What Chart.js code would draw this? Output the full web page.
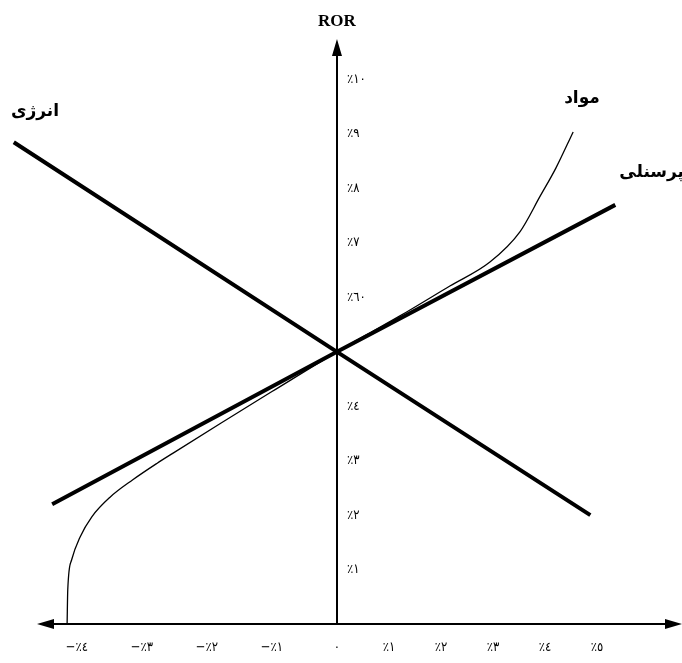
<!DOCTYPE html>
<html><head><meta charset="utf-8">
<script src="https://cdn.jsdelivr.net/npm/chart.js@4/dist/chart.umd.min.js"></script>
<style>html,body{margin:0;padding:0;background:#fff;} #wrap{width:682px;height:663px;}</style>
</head><body><div id="wrap"><canvas id="c" width="682" height="663"></canvas></div>
<script>
// ---- data ----
const xTickValues = [-4, -3, -2, -1, 0, 1, 2, 3, 4, 5];
const xTickLabels = ['−٪٤', '−٪٣', '−٪٢', '−٪١', '٠', '٪١', '٪٢', '٪٣', '٪٤', '٪٥'];
const yTickValues = [1, 2, 3, 4, 6, 7, 8, 9, 10];
const yTickLabels = ['٪١', '٪٢', '٪٣', '٪٤', '٪٦٠', '٪٧', '٪٨', '٪٩', '٪١٠'];
const axisTitle = 'ROR';
const seriesNames = ['انرژی', 'پرسنلی', 'مواد'];
const energyX = [-4.97, 0, 4.87];
const energyY = [8.85, 5, 2.0];
const personnelX = [-4.38, 0, 5.35];
const personnelY = [2.2, 5, 7.7];
const materialsX = [-4.15, -4.14, -4.08, -3.95, -3.77, -3.49, -3.14, -2.77, -2.52, -1.8, -1.0, 0, 0.6, 1.21, 2.17, 2.94, 3.52, 3.9, 4.21, 4.54];
const materialsY = [0, 0.63, 1.18, 1.6, 1.97, 2.33, 2.65, 2.95, 3.14, 3.68, 4.27, 5, 5.33, 5.66, 6.21, 6.65, 7.21, 7.85, 8.38, 9.04];

// ---- x scale with different unit length on negative and positive side ----
class SplitLinearScale extends Chart.LinearScale {
  static id = 'splitLinear';
  static defaults = {};
  _split() {
    const r = this.options.posRatio || 1;
    const W = this.right - this.left;
    const nu = W / (-this.min + r * this.max);
    return { nu: nu, pu: nu * r, z: this.left + nu * (-this.min) };
  }
  getPixelForValue(value) {
    if (value === null || value === undefined || isNaN(value)) return NaN;
    const s = this._split();
    return value < 0 ? s.z + value * s.nu : s.z + value * s.pu;
  }
  getValueForPixel(pixel) {
    const s = this._split();
    return pixel < s.z ? (pixel - s.z) / s.nu : (pixel - s.z) / s.pu;
  }
}
Chart.register(SplitLinearScale);

const toPts = (xs, ys) => xs.map((x, i) => ({ x: x, y: ys[i] }));
const arabicFont = '"DejaVu Sans", sans-serif';
const tickFont = '"DejaVu Sans Condensed", "DejaVu Sans", sans-serif';

const decor = {
  id: 'decor',
  afterDraw(chart) {
    const ctx = chart.ctx, a = chart.chartArea;
    const xs = chart.scales.x, ys = chart.scales.y;
    const x0 = xs.getPixelForValue(0), y0 = ys.getPixelForValue(0);
    ctx.save();
    ctx.fillStyle = '#000'; ctx.strokeStyle = '#000';
    // y tick labels to the right of the axis
    ctx.font = '13px ' + tickFont;
    ctx.textAlign = 'left'; ctx.textBaseline = 'middle';
    ys.ticks.forEach(t => { if (t.label) ctx.fillText(t.label, x0 + 10, ys.getPixelForValue(t.value)); });
    // arrows
    ctx.lineWidth = 2;
    ctx.beginPath(); ctx.moveTo(x0, a.top); ctx.lineTo(x0, a.top - 4); ctx.stroke();
    ctx.beginPath(); ctx.moveTo(x0, a.top - 8); ctx.lineTo(x0 - 5, a.top + 9); ctx.lineTo(x0 + 5, a.top + 9); ctx.closePath(); ctx.fill();
    ctx.beginPath(); ctx.moveTo(a.left - 8, y0); ctx.lineTo(a.left + 9, y0 - 5); ctx.lineTo(a.left + 9, y0 + 5); ctx.closePath(); ctx.fill();
    ctx.beginPath(); ctx.moveTo(a.right + 10, y0); ctx.lineTo(a.right - 7, y0 - 5); ctx.lineTo(a.right - 7, y0 + 5); ctx.closePath(); ctx.fill();
    // axis title
    ctx.font = 'bold 17px "Liberation Serif", serif';
    ctx.textAlign = 'center'; ctx.textBaseline = 'middle';
    ctx.fillText(axisTitle, x0, a.top - 25);
    // series names
    ctx.font = 'bold 17px ' + arabicFont;
    ctx.textAlign = 'center';
    ctx.fillText(seriesNames[0], 35, 112);
    ctx.fillText(seriesNames[2], 582, 99);
    ctx.textAlign = 'right';
    ctx.fillText(seriesNames[1], 684, 173);
    ctx.restore();
  }
};

new Chart(document.getElementById('c'), {
  type: 'line',
  data: {
    datasets: [
      { label: seriesNames[0], data: toPts(energyX, energyY), borderColor: '#000', borderWidth: 4, pointRadius: 0, tension: 0, fill: false, clip: false },
      { label: seriesNames[1], data: toPts(personnelX, personnelY), borderColor: '#000', borderWidth: 4, pointRadius: 0, tension: 0, fill: false, clip: false },
      { label: seriesNames[2], data: toPts(materialsX, materialsY), borderColor: '#000', borderWidth: 1.3, pointRadius: 0, cubicInterpolationMode: 'monotone', fill: false, clip: false }
    ]
  },
  options: {
    responsive: false,
    animation: false,
    devicePixelRatio: 1,
    layout: { padding: { left: 45, right: 10, top: 47, bottom: 39 } },
    plugins: { legend: { display: false }, tooltip: { enabled: false } },
    scales: {
      x: {
        type: 'splitLinear', posRatio: 0.8, min: -4.49, max: 6.44,
        position: { y: 0 },
        afterBuildTicks: s => { s.ticks = xTickValues.map(v => ({ value: v })); },
        ticks: { callback: (v, i) => xTickLabels[i], color: '#000', font: { family: tickFont, size: 13 }, padding: 16, maxRotation: 0, autoSkip: false },
        grid: { display: false, drawTicks: false },
        border: { display: true, color: '#000', width: 2 }
      },
      y: {
        type: 'linear', min: 0, max: 10.6,
        position: { x: 0 },
        afterBuildTicks: s => { s.ticks = yTickValues.map(v => ({ value: v })); },
        ticks: { display: false, callback: (v, i) => yTickLabels[i] },
        grid: { display: false, drawTicks: false },
        border: { display: true, color: '#000', width: 2 }
      }
    }
  },
  plugins: [decor]
});
</script></body></html>
